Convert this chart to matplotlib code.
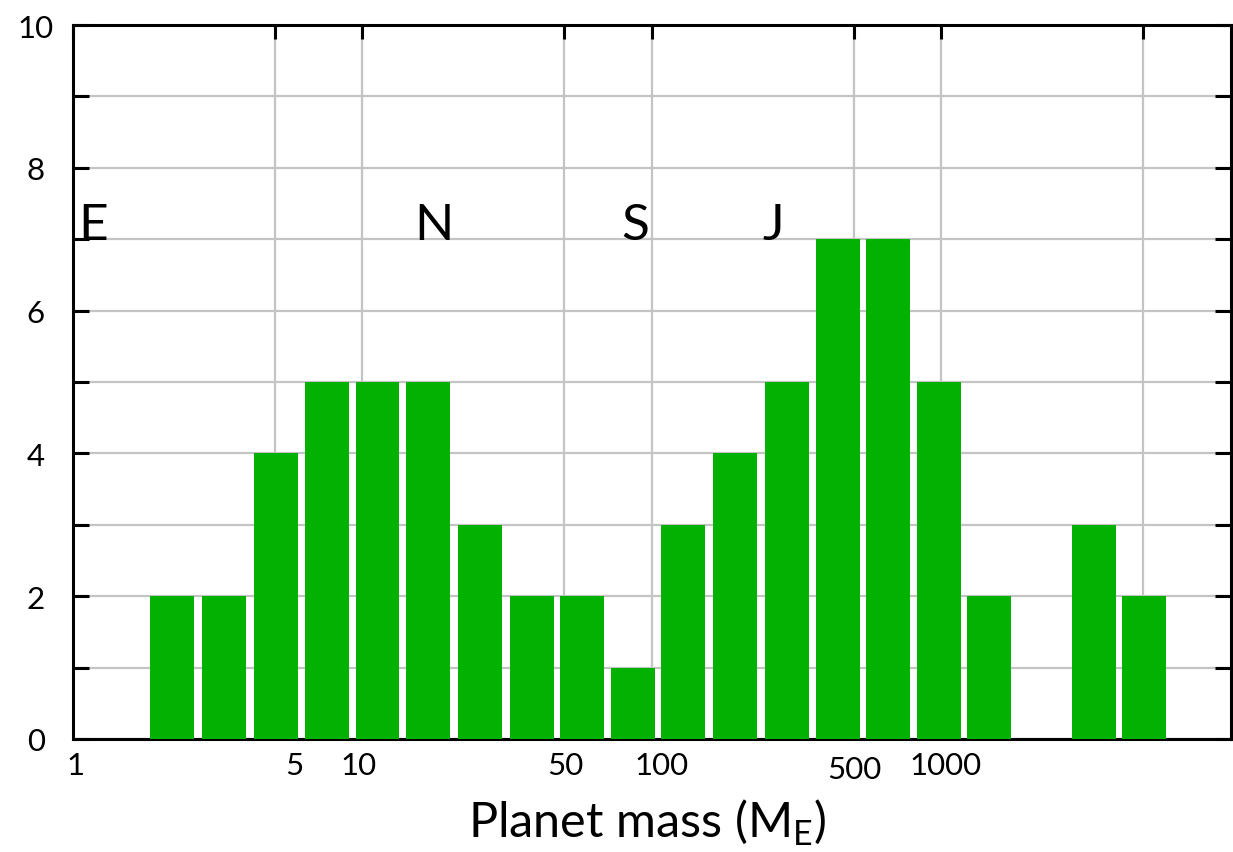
import matplotlib
matplotlib.use("Agg")
import matplotlib.pyplot as plt
from matplotlib.ticker import FixedLocator, NullLocator
from matplotlib.transforms import ScaledTranslation

plt.rcParams['font.family'] = ['Lato', 'DejaVu Sans']
plt.rcParams['mathtext.fontset'] = 'custom'
plt.rcParams['mathtext.rm'] = 'Lato'

# bin centres (Earth masses) and planet counts
bin_centres = [2.21, 3.34, 5.05, 7.57, 11.3, 16.9, 25.6, 38.7, 57.5, 86.3,
               128.5, 194, 294, 441, 656, 984, 1465, 2215, 3377, 5025]
counts = [2, 2, 4, 5, 5, 5, 3, 2, 2, 1, 3, 4, 5, 7, 7, 5, 2, 0, 3, 2]

tick_values = [1, 5, 10, 50, 100, 500, 1000, 5000]
tick_labels = ['1', '5', '10', '50', '100', '500', '1000', '']

planet_names = ['E', 'N', 'S', 'J']
planet_x = [1.05, 17.7, 88, 263]
planet_y = 7.0

green = '#02b102'
half_width = 1.19  # bar half-width as a factor in log space

fig = plt.figure(figsize=(12.33, 8.53), dpi=100)
ax = fig.add_axes([0.0588, 0.1325, 0.9392, 0.837])

lefts = [c / half_width for c in bin_centres]
widths = [c * half_width - c / half_width for c in bin_centres]
ax.bar(lefts, counts, width=widths, align='edge', color=green, zorder=3)

ax.set_xscale('log')
ax.set_xlim(1, 10000)
ax.set_ylim(0, 10)

ax.xaxis.set_major_locator(FixedLocator(tick_values))
ax.xaxis.set_minor_locator(NullLocator())
ax.set_xticklabels(tick_labels)
ax.set_yticks(range(0, 11))
ax.set_yticklabels([str(v) if v % 2 == 0 else '' for v in range(0, 11)])

ax.grid(True, color='#c4c4c4', linewidth=1.6, zorder=0)
ax.set_axisbelow(True)

for s in ax.spines.values():
    s.set_linewidth(2.2)

ax.tick_params(axis='x', which='major', direction='in', top=True, bottom=False,
               length=10, width=2.2, labelsize=22.5, pad=9)
ax.tick_params(axis='y', which='major', direction='in', left=True, right=True,
               length=11.5, width=2.2, labelsize=22.5, pad=26.5)
for lbl in ax.get_yticklabels():
    lbl.set_horizontalalignment('center')

# hand-placed label nudges (pixels)
label_shift = {'1': (3, 0), '5': (20, 0), '10': (-3, 0), '50': (1, 0),
               '100': (10, 0), '500': (0, -4), '1000': (5, 0)}
for lbl in ax.get_xticklabels():
    dx, dy = label_shift.get(lbl.get_text(), (0, 0))
    lbl.set_transform(lbl.get_transform() +
                      ScaledTranslation(dx / 100, dy / 100, fig.dpi_scale_trans))

ax.set_xlabel(r'Planet mass (M$_{\mathrm{E}}$)', fontsize=35)
ax.xaxis.label.set_verticalalignment('baseline')
ax.xaxis.set_label_coords(0.496, -0.137)

for name, x in zip(planet_names, planet_x):
    ax.text(x, planet_y, name, fontsize=37, ha='left' if name == 'E' else 'center',
            va='baseline', zorder=4)

fig.savefig('out.png', dpi=100)
